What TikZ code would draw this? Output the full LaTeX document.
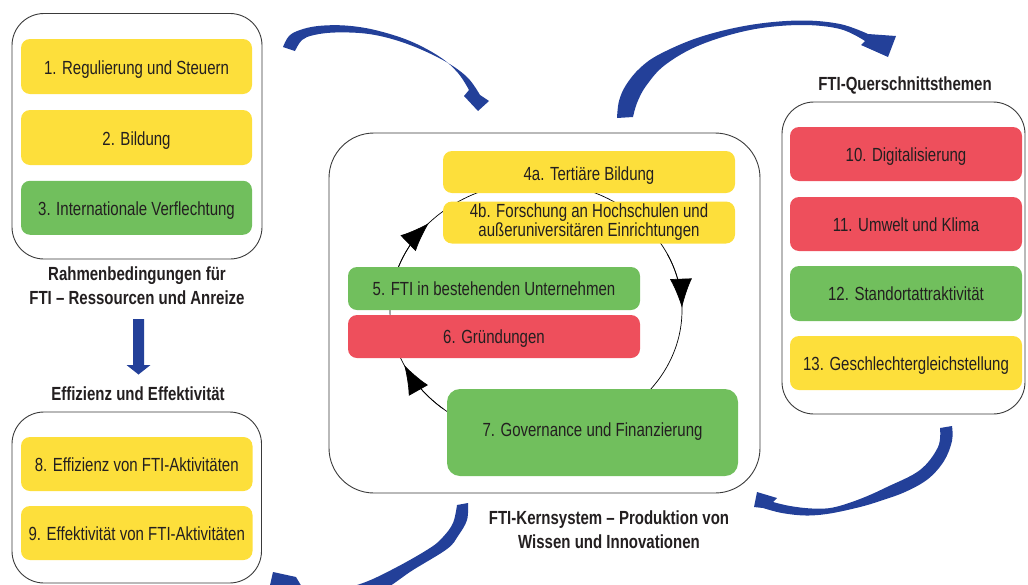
\documentclass[tikz,border=0pt]{standalone}
\usepackage{fontspec}
\setmainfont[FakeStretch=0.79]{Liberation Sans}
\usetikzlibrary{arrows.meta}
\definecolor{cyel}{HTML}{FDDF3B}
\definecolor{cgrn}{HTML}{71BF5D}
\definecolor{cred}{HTML}{EE4F5C}
\definecolor{cblu}{HTML}{234099}
\definecolor{ctxt}{HTML}{231F20}
\definecolor{cline}{HTML}{3A3A3A}
\begin{document}
\begin{tikzpicture}[x=1pt,y=-1pt,
  font=\fontsize{19}{19}\selectfont, text=ctxt,
  frame/.style={draw=cline, line width=0.9pt, rounded corners=32pt, inner sep=0pt},
  cell/.style={rounded corners=9pt, inner sep=0pt, align=center, text height=15pt, text depth=0pt},
  yel/.style={cell, fill=cyel},
  grn/.style={cell, fill=cgrn},
  rd/.style={cell, fill=cred},
  lab/.style={font=\fontsize{19}{23.5}\selectfont\bfseries, align=center, inner sep=0pt},
  labone/.style={lab, text height=14pt, text depth=0pt},
  cycline/.style={draw=black, line width=0.7pt},
  cycarr/.style={draw=black, line width=0.7pt, -{Latex[length=29pt,width=22pt]}},
  bluearrow/.style={fill=cblu}
]
\useasboundingbox (0,0) rectangle (1028,584);
\clip (0,0) rectangle (1028,584);

% containers
\node[frame, minimum width=250pt, minimum height=245.5pt] (rahmen) at (137,136.25) {};
\node[frame, minimum width=249.5pt, minimum height=171pt] (effiz) at (136.75,497.5) {};
\node[frame, rounded corners=45pt, minimum width=431pt, minimum height=360pt] (kern) at (544.5,313) {};
\node[frame, minimum width=243pt, minimum height=312pt] (quer) at (903.5,258) {};

% cycle inside core system
\coordinate (cyc) at (536,310);
\draw[cycline] (cyc) ellipse [x radius=146, y radius=128];
\draw[cycarr] plot[domain=197.8:222.8, samples=20, variable=\t] ({536+146*cos(\t)},{310+128*sin(\t)});
\draw[cycarr] plot[domain=-26:-1, samples=20, variable=\t] ({536+146*cos(\t)},{310+128*sin(\t)});
\draw[cycarr] plot[domain=129.5:154.5, samples=20, variable=\t] ({536+146*cos(\t)},{310+128*sin(\t)});

% left top boxes
\node[yel, minimum width=231pt, minimum height=55pt] (n1) at (136.5,66.5) {1. Regulierung und Steuern};
\node[yel, minimum width=231pt, minimum height=55pt] (n2) at (136.5,137.5) {2. Bildung};
\node[grn, minimum width=231pt, minimum height=54pt] (n3) at (136.5,207.75) {3. Internationale Verflechtung};

% left bottom boxes
\node[yel, minimum width=231.5pt, minimum height=54pt, text height=14pt] (n8) at (136.75,464) {8. Effizienz von FTI-Aktivitäten};
\node[yel, minimum width=231.5pt, minimum height=54pt, text height=14pt] (n9) at (136.75,533) {9. Effektivität von FTI-Aktivitäten};

% core boxes
\node[yel, minimum width=292pt, minimum height=42pt, text height=16pt] (n4a) at (589,172) {4a. Tertiäre Bildung};
\node[yel, minimum width=292pt, minimum height=42pt, text height={}, text depth={}] (n4b) at (589,222.5) {4b. Forschung an Hochschulen und\\außeruniversitären Einrichtungen};
\node[grn, minimum width=292pt, minimum height=43pt, text height=14pt] (n5) at (494,288.5) {5. FTI in bestehenden Unternehmen};
\node[rd, minimum width=292pt, minimum height=43pt, text height=14pt] (n6) at (494,336.5) {6. Gründungen};
\node[grn, rounded corners=13pt, minimum width=291pt, minimum height=87pt, text height=8pt] (n7) at (592.5,432.5) {7. Governance und Finanzierung};

% right boxes
\node[rd, minimum width=232pt, minimum height=54pt, text height=14pt] (n10) at (906,154) {10. Digitalisierung};
\node[rd, minimum width=232pt, minimum height=54pt, text height=14pt] (n11) at (906,224) {11. Umwelt und Klima};
\node[grn, minimum width=232pt, minimum height=55pt, text height=14pt] (n12) at (906,293.5) {12. Standortattraktivität};
\node[yel, minimum width=232pt, minimum height=54pt, text height=14pt] (n13) at (906,363) {13. Geschlechtergleichstellung};

% labels
\node[lab] (lrahmen) at (137,285.5) {Rahmenbedingungen für\\FTI – Ressourcen und Anreize};
\node[labone] (leffiz) at (138,393) {Effizienz und Effektivität};
\node[labone] (lquer) at (905,83) {FTI-Querschnittsthemen};
\node[lab] (lkern) at (609,529.5) {FTI-Kernsystem – Produktion von\\Wissen und Innovationen};

% straight down arrow
\fill[bluearrow] (133,319) -- (144,319) -- (144,365) -- (150.5,365) -- (138.5,374.5) -- (126.5,365) -- (133,365) -- cycle;

% curved arrow: Rahmen -> Kern
\fill[bluearrow] plot[smooth, tension=0.6] coordinates {(283,47) (289,36) (300,30) (318,26) (345,25.5) (375,30) (410,41) (440,57) (458,73) (469,90)}
  -- (464,96) -- (478,111) -- (489,101)
  -- plot[smooth, tension=0.6] coordinates {(480,95) (468,78) (448,63) (420,49) (392,39) (365,33.5) (335,32.5) (314,35) (302,40) (295,51)} -- cycle;

% curved arrow: Kern -> Quer
\fill[bluearrow] plot[smooth, tension=0.6] coordinates {(617,118) (619,101) (626,85) (640,68) (660,54) (700,37) (750,25) (800,20.5) (840,24) (868,34)}
  -- (896,36) -- (888,57) -- (861,45)
  -- plot[smooth, tension=0.6] coordinates {(865,41) (840,29) (800,25) (750,30) (700,45) (665,65) (646,86) (637,103) (633,117)} -- cycle;

% curved arrow: Quer -> Kern
\fill[bluearrow] plot[smooth, tension=0.6] coordinates {(952,426) (952,441) (944,461) (928,479) (905,492) (880,501) (860,507) (830,513.5) (806,515.5) (782,513) (763,508)}
  -- (754,507) -- (757,492) -- (777,498)
  -- plot[smooth, tension=0.6] coordinates {(773,502) (790,506) (812,508.5) (833,507.5) (860,499) (887,487) (920,470) (938,447) (940,428)} -- cycle;

% curved arrow: Kern -> Effizienz
\fill[bluearrow] plot[smooth, tension=0.6] coordinates {(468,503) (467,520) (458,536) (447,549) (413,570) (375,594) (330,601) (285,598) (276,595)}
  -- (268,594) -- (273,572) -- (296,577)
  -- plot[smooth, tension=0.6] coordinates {(302,587) (330,591) (363,583) (397,567) (430,548) (443,537) (453,523) (457,505)} -- cycle;
\end{tikzpicture}
\end{document}
